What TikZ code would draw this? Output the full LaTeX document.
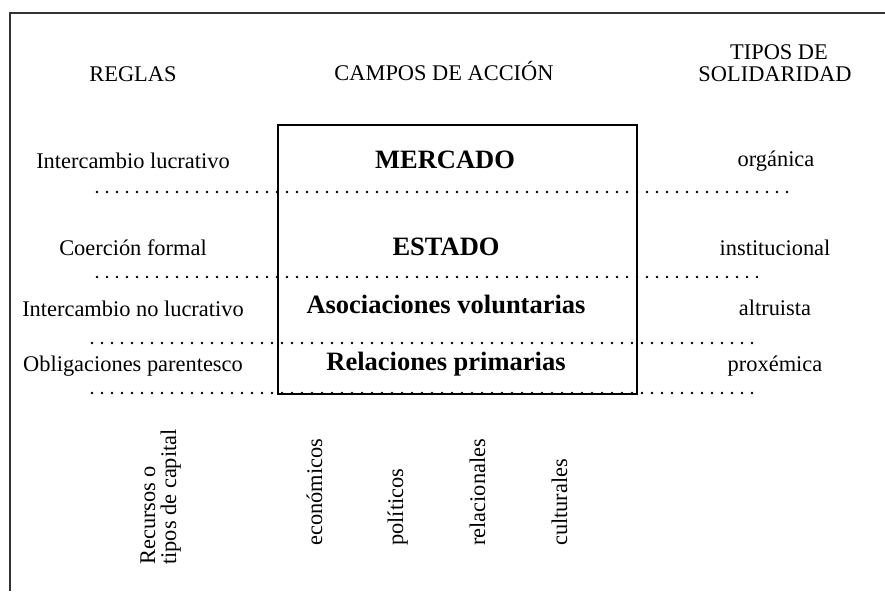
\documentclass[tikz,border=0pt]{standalone}
\usepackage{fontspec}
\setmainfont{Liberation Serif}
\begin{document}
\begin{tikzpicture}[x=1pt,y=-1pt,
  lbl/.style={inner sep=0pt, anchor=base, font=\fontsize{22.4}{25}\selectfont},
  fld/.style={inner sep=0pt, anchor=base, font=\fontsize{26.5}{30}\selectfont\bfseries},
  vlbl/.style={inner sep=0pt, anchor=base west, rotate=90, font=\fontsize{22.4}{25}\selectfont},
  dotline/.style={line width=2.7pt, line cap=round, dash pattern=on 0pt off 10pt, black},
  frame/.style={line width=1.2pt, black!80},
  fieldbox/.style={draw, line width=2.6pt, black, inner sep=0pt, minimum width=359pt, minimum height=269pt}]
\useasboundingbox (0,0) rectangle (885,591);
\fill[white] (0,0) rectangle (885,591);
% frame
\coordinate (fr1) at (885,13);
\coordinate (fr2) at (10,13);
\coordinate (fr3) at (10,591);
\draw[frame] (fr1) -- (fr2) -- (fr3);
% dotted lines
\coordinate (d1a) at (97,192);  \coordinate (d1b) at (790,192);
\coordinate (d2a) at (97,277);  \coordinate (d2b) at (758,277);
\coordinate (d3a) at (92,343);  \coordinate (d3b) at (757,343);
\coordinate (d4a) at (92,393);  \coordinate (d4b) at (757,393);
\draw[dotline] (d1a) -- (d1b);
\draw[dotline] (d2a) -- (d2b);
\draw[dotline] (d3a) -- (d3b);
\draw[dotline] (d4a) -- (d4b);
% box
\node[fieldbox] (box) at (457.5,259.5) {};
% headers
\node[lbl] (hreg) at (133,82) {REGLAS};
\node[lbl] (hcam) at (444,81) {CAMPOS DE ACCIÓN};
\node[lbl] (htip1) at (779,60) {TIPOS DE};
\node[lbl] (htip2) at (775,82) {SOLIDARIDAD};
% left column
\node[lbl] (r1) at (133,168) {Intercambio lucrativo};
\node[lbl] (r2) at (133,255) {Coerción formal};
\node[lbl] (r3) at (133,316) {Intercambio no lucrativo};
\node[lbl] (r4) at (133,371) {Obligaciones parentesco};
% centre
\node[fld] (c1) at (445,168) {MERCADO};
\node[fld] (c2) at (446,255) {ESTADO};
\node[fld] (c3) at (446,313) {Asociaciones voluntarias};
\node[fld] (c4) at (446,370) {Relaciones primarias};
% right column
\node[lbl] (s1) at (776,166) {orgánica};
\node[lbl] (s2) at (775,255) {institucional};
\node[lbl] (s3) at (775,315) {altruista};
\node[lbl] (s4) at (775,371) {proxémica};
% resources
\node[vlbl] (v0a) at (155,565) {Recursos o};
\node[vlbl] (v0b) at (176,565) {tipos de capital};
\node[vlbl] (v1) at (322,546) {económicos};
\node[vlbl] (v2) at (403,546) {políticos};
\node[vlbl] (v3) at (485,546) {relacionales};
\node[vlbl] (v4) at (567,546) {culturales};
\end{tikzpicture}
\end{document}
